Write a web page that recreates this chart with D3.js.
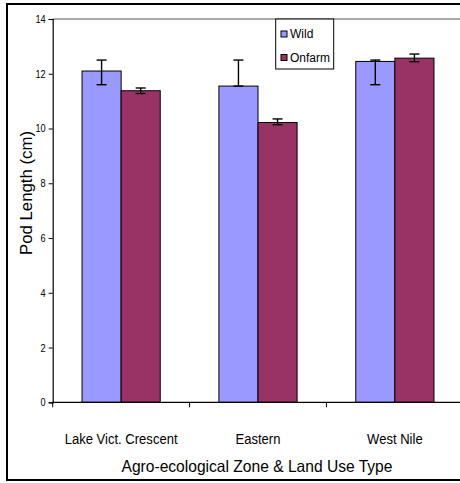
<!DOCTYPE html>
<html>
<head>
<meta charset="utf-8">
<script src="https://cdn.jsdelivr.net/npm/d3@7"></script>
<style>
  html, body { margin: 0; padding: 0; background: #fff; }
  svg { display: block; }
  text { font-family: "Liberation Sans", Arial, sans-serif; fill: #000; }
</style>
</head>
<body>
<svg id="chart" width="460" height="483"></svg>
<script>
// Zones along the x axis and the two land-use series
const zones = ["Lake Vict. Crescent", "Eastern", "West Nile"];
const series = ["Wild", "Onfarm"];

// Mean pod length (cm) per zone
const wildMean   = [12.1, 11.55, 12.45];
const onfarmMean = [11.38, 10.22, 12.57];

// Error bar extents above and below each mean
const wildErrUp     = [0.4, 0.95, 0.05];
const wildErrDown   = [0.5, 0.0, 0.85];
const onfarmErrUp   = [0.1, 0.13, 0.15];
const onfarmErrDown = [0.1, 0.08, 0.13];

const yTicks = [0, 2, 4, 6, 8, 10, 12, 14];

const colors = { Wild: "#9999FF", Onfarm: "#993366" };

const rows = zones.map((z, i) => ({
  zone: z,
  values: [
    { key: "Wild", v: wildMean[i], up: wildErrUp[i], down: wildErrDown[i] },
    { key: "Onfarm", v: onfarmMean[i], up: onfarmErrUp[i], down: onfarmErrDown[i] }
  ]
}));

const svg = d3.select("#chart");

const plot = { left: 52.7, top: 19, bottom: 402.3, right: 463.3 };

// Chart frame
svg.append("rect")
  .attr("x", 7).attr("y", 4)
  .attr("width", 520).attr("height", 476)
  .attr("fill", "#fff")
  .attr("stroke", "#000").attr("stroke-width", 2);

// Plot area outline (top edge visible)
svg.append("line")
  .attr("x1", plot.left).attr("x2", plot.right)
  .attr("y1", plot.top).attr("y2", plot.top)
  .attr("stroke", "#8c8c8c").attr("stroke-width", 1.5);

const x0 = d3.scaleBand().domain(zones).range([plot.left, plot.right]).paddingInner(0).paddingOuter(0);
const x1 = d3.scaleBand().domain(series).range([0, x0.bandwidth()]).paddingInner(0).paddingOuter(0.75);
const y = d3.scaleLinear().domain([0, 14]).range([plot.bottom, plot.top]);

// Bars
const groups = svg.append("g").selectAll("g")
  .data(rows).join("g")
  .attr("transform", d => `translate(${x0(d.zone)},0)`);

groups.selectAll("rect")
  .data(d => d.values).join("rect")
  .attr("x", d => x1(d.key))
  .attr("y", d => y(d.v))
  .attr("width", x1.bandwidth())
  .attr("height", d => y(0) - y(d.v))
  .attr("fill", d => colors[d.key])
  .attr("stroke", "#000").attr("stroke-width", 1);

// Error bars
const capW = 10;
const eb = groups.selectAll("g.err")
  .data(d => d.values).join("g")
  .attr("class", "err")
  .attr("stroke", "#000").attr("stroke-width", 1.4);

eb.append("line")
  .attr("x1", d => x1(d.key) + x1.bandwidth() / 2)
  .attr("x2", d => x1(d.key) + x1.bandwidth() / 2)
  .attr("y1", d => y(d.v + d.up))
  .attr("y2", d => y(d.v - d.down));
eb.append("line")
  .attr("x1", d => x1(d.key) + x1.bandwidth() / 2 - capW / 2)
  .attr("x2", d => x1(d.key) + x1.bandwidth() / 2 + capW / 2)
  .attr("y1", d => y(d.v + d.up))
  .attr("y2", d => y(d.v + d.up));
eb.append("line")
  .attr("x1", d => x1(d.key) + x1.bandwidth() / 2 - capW / 2)
  .attr("x2", d => x1(d.key) + x1.bandwidth() / 2 + capW / 2)
  .attr("y1", d => y(d.v - d.down))
  .attr("y2", d => y(d.v - d.down));

// Y axis (condensed tick labels)
const yAxis = svg.append("g")
  .attr("transform", `translate(${plot.left},0)`)
  .call(d3.axisLeft(y).tickValues(yTicks).tickFormat(d3.format("d")).tickSize(4).tickPadding(3));
yAxis.select(".domain").attr("stroke", "#000").attr("stroke-width", 1.2);
yAxis.selectAll(".tick line").attr("stroke", "#000");
yAxis.selectAll(".tick text")
  .attr("x", 0)
  .style("font-size", "10.8px")
  .style("font-family", "'Liberation Sans', Arial, sans-serif")
  .attr("fill", "#000")
  .attr("transform", "translate(-7,0) scale(0.85,1)");

// X axis: ticks sit on the zone boundaries
const boundaries = zones.map(z => x0(z)).concat([plot.right]);
svg.append("line")
  .attr("x1", plot.left).attr("x2", plot.right)
  .attr("y1", plot.bottom).attr("y2", plot.bottom)
  .attr("stroke", "#000").attr("stroke-width", 1.2);
svg.append("g").selectAll("line")
  .data(boundaries).join("line")
  .attr("x1", d => d).attr("x2", d => d)
  .attr("y1", plot.bottom).attr("y2", plot.bottom + 5)
  .attr("stroke", "#000").attr("stroke-width", 1);
svg.append("g").selectAll("text")
  .data(zones).join("text")
  .attr("transform", d => `translate(${x0(d) + x0.bandwidth() / 2},443.5) scale(0.9,1)`)
  .attr("text-anchor", "middle")
  .style("font-size", "14.5px")
  .text(d => d);

// Axis titles
svg.append("text")
  .attr("transform", `translate(${(plot.left + plot.right) / 2 - 1},471.5) scale(0.945,1)`)
  .attr("text-anchor", "middle")
  .style("font-size", "16.5px")
  .text("Agro-ecological Zone & Land Use Type");

svg.append("text")
  .attr("transform", `translate(31.5,193) rotate(-90)`)
  .attr("text-anchor", "middle")
  .style("font-size", "16.8px")
  .text("Pod Length (cm)");

// Legend
const lg = svg.append("g");
lg.append("rect")
  .attr("x", 275.7).attr("y", 19)
  .attr("width", 58).attr("height", 50)
  .attr("fill", "#fff").attr("stroke", "#000").attr("stroke-width", 1);
const items = lg.selectAll("g.item")
  .data(series).join("g")
  .attr("class", "item")
  .attr("transform", (d, i) => `translate(281,${31 + i * 23.5})`);
items.append("rect")
  .attr("width", 6).attr("height", 6)
  .attr("fill", d => colors[d])
  .attr("stroke", "#000").attr("stroke-width", 1);
items.append("text")
  .attr("x", 9).attr("y", 7)
  .style("font-size", "12px")
  .text(d => d);
</script>
</body>
</html>
